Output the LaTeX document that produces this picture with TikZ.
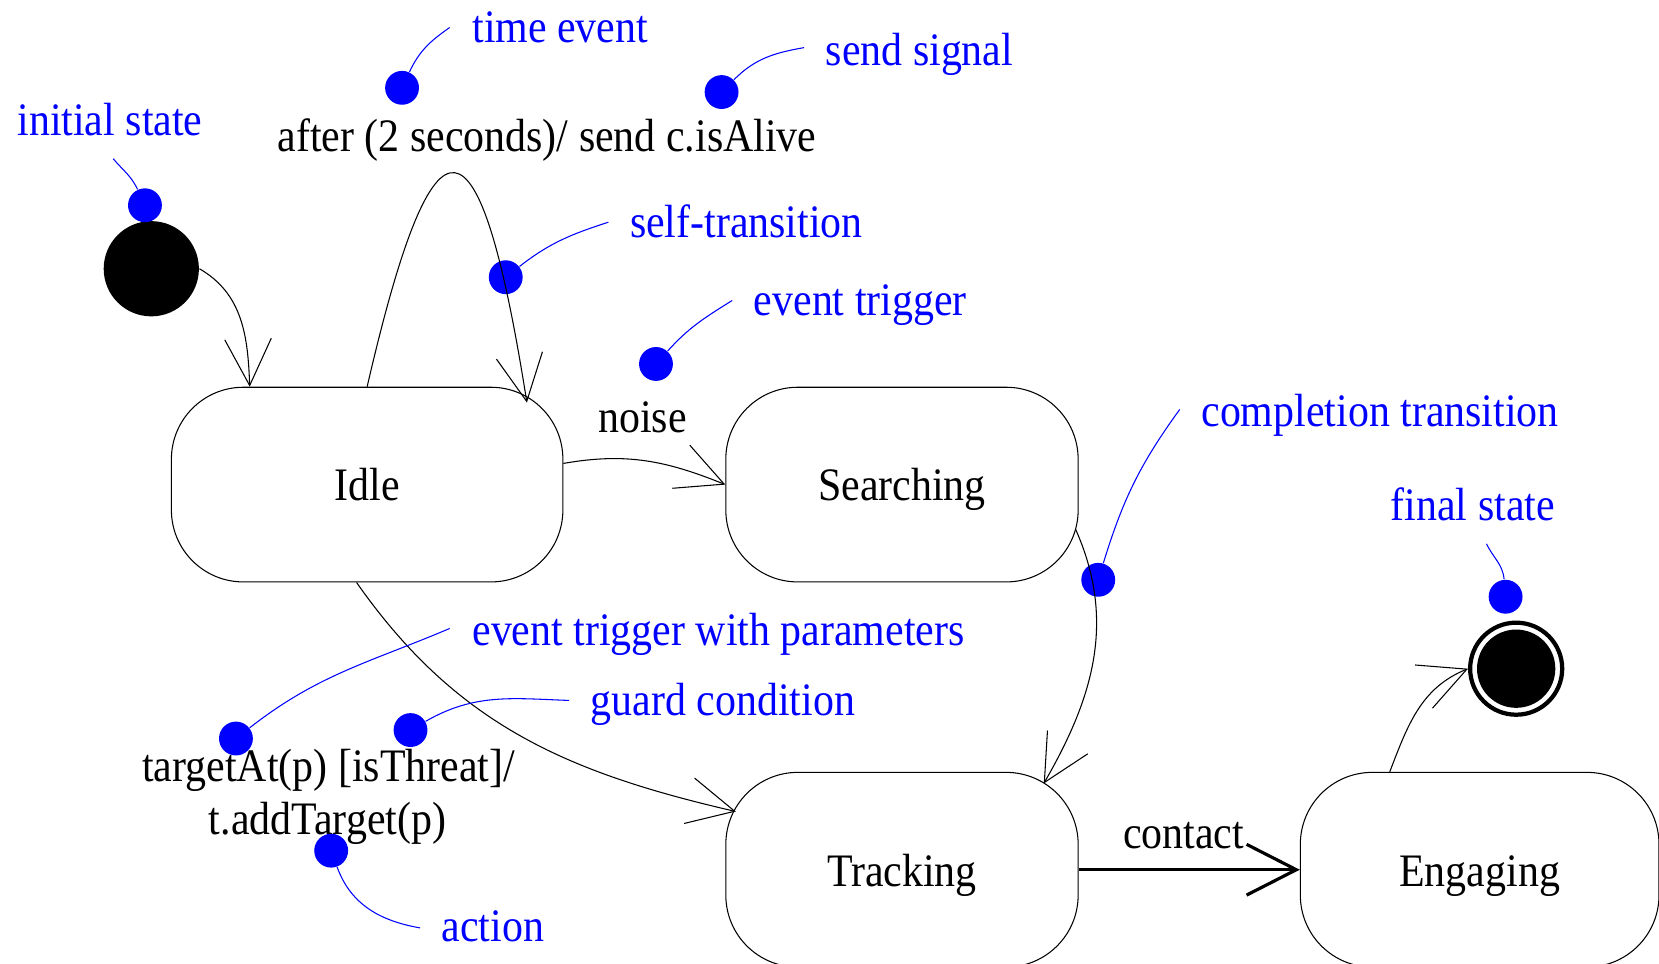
\documentclass[tikz,border=0pt]{standalone}
\usepackage{fontspec}
\setmainfont{Liberation Serif}[FakeStretch=0.9]
\usetikzlibrary{arrows.meta, calc, positioning}

\begin{document}
\begin{tikzpicture}[x=0.5pt, y=-0.5pt, line width=0.5pt, font=\fontsize{22}{25}\selectfont,
	stbox/.style={draw, rounded corners=34pt, minimum height=92pt, text height=15.4pt, text depth=0pt},
	dot/.style={fill=blue, circle, inner sep=0pt, minimum size=16pt},
	note/.style={anchor=base west, inner sep=0pt, text=blue},
	txt/.style={anchor=base west, inner sep=0pt},
	lead/.style={blue},
	trans/.style={-{Straight Barb[length=22pt, width=22pt]}}]
	\useasboundingbox (0,0) rectangle (1568,911);

	\node[stbox, minimum width=185pt] (idle) at (347,458) {Idle};
	\node[stbox, minimum width=166.5pt] (search) [right=76.5pt of idle] {Searching};
	\node[stbox, minimum width=166.5pt] (track) [below=89.5pt of search] {Tracking};
	\node[stbox, minimum width=169.5pt] (engage) [right=104.5pt of track] {Engaging};
	\node[circle, fill, inner sep=0pt, minimum size=45pt] (init) at (143,254) {};
	\node[circle, draw, line width=2pt, inner sep=0pt, minimum size=43.5pt] (final) at (1433,632) {};
	\fill (final.center) circle (18.5pt);

	\node[txt] (t_loop) at (262,143) {after (2 seconds)/ send c.isAlive};
	\node[txt] (t_noise) at (565,409) {noise};
	\node[txt] (t_cond) at (134,739) {targetAt(p) [isThreat]/};
	\node[txt] (t_act) at (197,789) {t.addTarget(p)};
	\node[txt] (t_contact) at (1061,802) {contact};

	\node[note] (n_init) at (16,128) {initial state};
	\node[note] (n_time) at (446,40) {time event};
	\node[note] (n_send) at (780,62) {send signal};
	\node[note] (n_self) at (595,224) {self-transition};
	\node[note] (n_event) at (712,298) {event trigger};
	\node[note] (n_compl) at (1135,403) {completion transition};
	\node[note] (n_final) at (1314,492) {final state};
	\node[note] (n_param) at (446,610) {event trigger with parameters};
	\node[note] (n_guard) at (558,676) {guard condition};
	\node[note] (n_action) at (417,890) {action};

	\node[dot] (d_init) at (137,194) {};
	\node[dot] (d_time) at (380,83) {};
	\node[dot] (d_send) at (682,87) {};
	\node[dot] (d_self) at (478,262) {};
	\node[dot] (d_event) at (620,344) {};
	\node[dot] (d_compl) at (1038,548) {};
	\node[dot] (d_final) at (1423,564) {};
	\node[dot] (d_param) at (223,698) {};
	\node[dot] (d_guard) at (388,690) {};
	\node[dot] (d_action) at (313,804) {};

	\coordinate (e_init) at (107,150);
	\coordinate (e_time) at (425,26);
	\coordinate (e_send) at (760,45);
	\coordinate (e_self) at (575,210);
	\coordinate (e_event) at (692,284);
	\coordinate (e_compl) at (1115,387);
	\coordinate (e_final) at (1405,514);
	\coordinate (e_param) at (425,594);
	\coordinate (e_guard) at (538,662);
	\coordinate (e_action) at (397,877);

	\path[trans]
	(init.east) edge[out=-30, in=92] ($(idle.north)+(-111,0)$)
	(idle.north) edge[out=77, in=99, looseness=4.8] ($(idle.north)+(151,15)$)
	($(idle.east)+(0,-20)$) edge[out=10, in=158] (search.west)
	($(idle.south)+(-10,0)$) edge[out=-55, in=167] ($(track.west)+(10,-55)$)
	($(search.east)+(-3,42)$) edge[out=-66, in=60] ($(track.north east)+(-33,11)$)
	($(engage.north)+(-85,0)$) edge[out=69, in=202] (final.west)
	;
	\draw[line width=1.5pt, -{Straight Barb[length=23.5pt, width=24pt]}] (track) -- (engage);

	\path[lead]
	(d_init) edge[out=115, in=-50] (e_init)
	(d_time) edge[out=65, in=215] (e_time)
	(d_send) edge[out=45, in=190] (e_send)
	(d_self) edge[out=38, in=198] (e_self)
	(d_event) edge[out=48, in=212] (e_event)
	(d_compl) edge[out=73, in=234] (e_compl)
	(d_final) edge[out=95, in=-65] (e_final)
	(d_param) edge[out=38, in=203] (e_param)
	(d_guard) edge[out=30, in=178] (e_guard)
	(d_action) edge[out=-70, in=170] (e_action)
	;
\end{tikzpicture}
\end{document}
